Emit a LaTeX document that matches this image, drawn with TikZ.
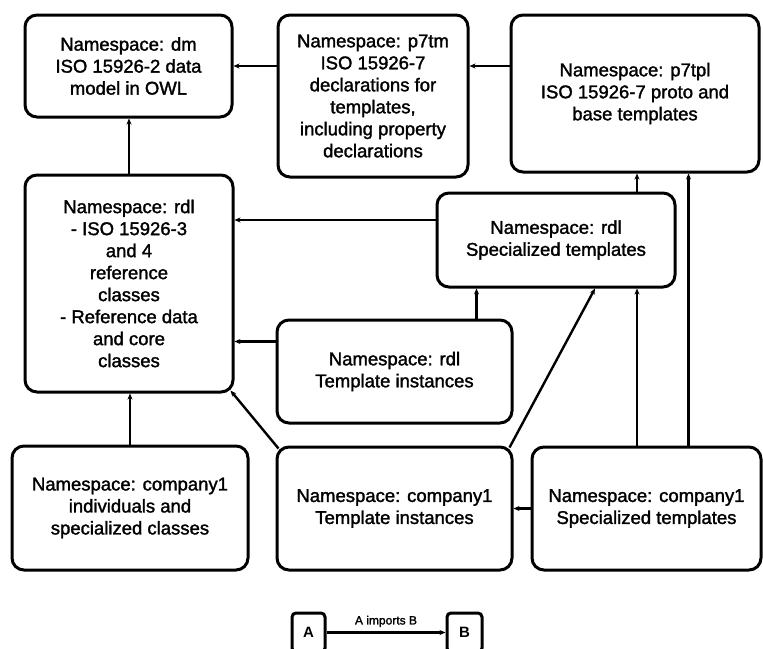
\documentclass[tikz,border=0pt]{standalone}
\usepackage{fontspec}
\setmainfont{Liberation Sans}[BoldFont=Liberation Sans, BoldFeatures={FakeBold=1.6}]
\newfontfamily\keyfont{Liberation Sans}
\usetikzlibrary{arrows.meta,calc}
\tikzset{
  nsbox/.style={draw, line width=3pt, rounded corners=12pt, align=center,
    inner sep=0pt, font=\fontsize{18.5}{22}\selectfont\bfseries},
  imports/.style={line width=2.4pt, -{Stealth[length=6pt,width=5pt]}},
  keybox/.style={draw, line width=3pt, rounded corners=4pt, inner sep=0pt,
    font=\fontsize{15}{18}\selectfont\keyfont\bfseries}
}
\begin{document}
\begin{tikzpicture}[x=1pt,y=-1pt]
\useasboundingbox (0,0) rectangle (763,648);
\clip (0,0) rectangle (763,648);
% top row
\node[nsbox, minimum width=207pt, minimum height=102pt] (dm) at (128.5,66)
  {Namespace: dm\\ISO 15926-2 data\\model in OWL};
\node[nsbox, minimum width=190pt, minimum height=162pt] (p7tm) at (373,96)
  {Namespace: p7tm\\ISO 15926-7\\declarations for\\templates,\\including property\\declarations};
\node[nsbox, minimum width=248pt, minimum height=157pt] (p7tpl) at (635,93.5)
  {Namespace: p7tpl\\ISO 15926-7 proto and\\base templates};
% middle
\node[nsbox, minimum width=208pt, minimum height=217pt] (rdl) at (129,283.5)
  {Namespace: rdl\\- ISO 15926-3\\and 4\\reference\\classes\\- Reference data\\and core\\classes};
\node[nsbox, minimum width=238pt, minimum height=94pt] (rdlspec) at (556,240)
  {Namespace: rdl\\Specialized templates};
\node[nsbox, minimum width=235pt, minimum height=103pt] (rdlinst) at (394.5,371.5)
  {Namespace: rdl\\Template instances};
% bottom row
\node[nsbox, minimum width=236pt, minimum height=124pt] (c1ind) at (130,508)
  {Namespace: company1\\individuals and\\specialized classes};
\node[nsbox, minimum width=235pt, minimum height=123pt] (c1inst) at (394.5,508.5)
  {Namespace: company1\\Template instances};
\node[nsbox, minimum width=229pt, minimum height=123pt] (c1spec) at (646.5,508.5)
  {Namespace: company1\\Specialized templates};
% legend
\node[keybox, minimum width=33pt, minimum height=39pt] (keyA) at (308.5,632.5) {A};
\node[keybox, minimum width=35pt, minimum height=39pt] (keyB) at (464.5,632.5) {B};

% import arrows
\coordinate (s1) at ([yshift=20pt]rdlspec.west);
\coordinate (s2) at ([xshift=81pt]rdlspec.north);
\coordinate (i1) at ([yshift=30pt]rdlinst.west);
\coordinate (i2) at ([xshift=82pt]rdlinst.north);
\coordinate (c2) at ([xshift=42pt]c1spec.north);
\draw[imports] (p7tm.west |- dm.east) -- (dm.east);
\draw[imports] (p7tpl.west |- dm.east) -- (p7tm.east |- dm.east);
\draw[imports] (rdl.north) -- (rdl.north |- dm.south);
\draw[imports] (s1) -- (s1 -| rdl.east);
\draw[imports] (i1) -- (i1 -| rdl.east);
\draw[imports] (i2) -- (i2 |- rdlspec.south);
\draw[imports] (s2) -- (s2 |- p7tpl.south);
\draw[imports] (c1spec.north -| s2) -- (rdlspec.south -| s2);
\draw[imports] (c2) -- (c2 |- p7tpl.south);
\draw[imports] (c1spec.west) -- (c1inst.east);
\draw[imports] (c1ind.north) -- (c1ind.north |- rdl.south);
\draw[imports] ($(c1inst.north west)+(3,3)$) -- ($(rdl.south east)+(-4,-3)$);
\draw[imports] ($(c1inst.north east)+(-4,2)$) -- ([xshift=39pt]rdlspec.south);
\draw[imports] (keyA) -- node[above=1pt, font=\fontsize{12}{14}\selectfont\bfseries] {A imports B} (keyB);
\end{tikzpicture}
\end{document}
